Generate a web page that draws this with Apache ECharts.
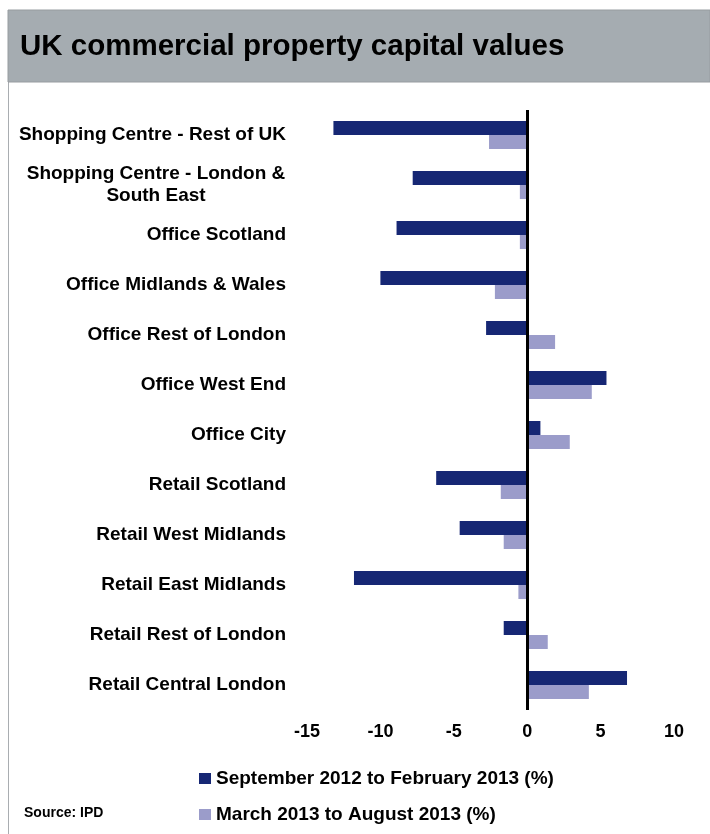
<!DOCTYPE html>
<html>
<head>
<meta charset="utf-8">
<script src="https://cdn.jsdelivr.net/npm/echarts@6/dist/echarts.min.js"></script>
<style>html,body{margin:0;padding:0;background:#fff}#chart{width:710px;height:834px}</style>
</head>
<body>
<div id="chart"></div>
<script>
const categories = ["Shopping Centre - Rest of UK","Shopping Centre - London &\nSouth East","Office Scotland","Office Midlands & Wales","Office Rest of London","Office West End","Office City","Retail Scotland","Retail West Midlands","Retail East Midlands","Retail Rest of London","Retail Central London"];
const sepFeb = [-13.2,-7.8,-8.9,-10.0,-2.8,5.4,0.9,-6.2,-4.6,-11.8,-1.6,6.8];
const marAug = [-2.6,-0.5,-0.5,-2.2,1.9,4.4,2.9,-1.8,-1.6,-0.6,1.4,4.2];
const seriesNames = ["September 2012 to February 2013 (%)","March 2013 to August 2013 (%)"];
const FONT = "'Liberation Sans', Arial, sans-serif";

const chart = echarts.init(document.getElementById("chart"));
chart.setOption({
  animation:false,
  graphic:[
    { type:"line", shape:{x1:8.5,y1:10,x2:8.5,y2:834}, style:{stroke:"#a9adb1",lineWidth:1} },
    { type:"rect", shape:{x:8,y:10,width:702,height:72}, style:{fill:"#a5acb1",stroke:"#979ca0",lineWidth:1} },
    { type:"text", left:20, top:32, style:{text:"UK commercial property capital values",font:"bold 29.5px "+FONT,fill:"#000"} },
    { type:"text", left:24, top:806, style:{text:"Source: IPD",font:"bold 14px "+FONT,fill:"#000"} }
  ],
  grid:{ left:307, right:36, top:110, bottom:124, containLabel:false, outerBoundsMode:"none" },
  legend:{ orient:"vertical", left:194, top:764, itemWidth:12, itemHeight:11, itemGap:17, icon:"rect",
    data:seriesNames, textStyle:{ fontFamily:FONT, fontWeight:"bold", fontSize:19, color:"#000" } },
  xAxis:{ type:"value", min:-15, max:10, interval:5,
    axisLine:{show:false}, axisTick:{show:false}, splitLine:{show:false},
    axisLabel:{ margin:13, fontFamily:FONT, fontWeight:"bold", fontSize:18, color:"#000" } },
  yAxis:{ type:"category", inverse:true, data:categories,
    axisLine:{show:false}, axisTick:{show:false},
    axisLabel:{ margin:21, fontFamily:FONT, fontWeight:"bold", fontSize:19, color:"#000", lineHeight:22,
      formatter:(v)=> v.indexOf("\n")<0 ? v : v.split("\n").map(s=>"{w|"+s+"}").join("\n"),
      rich:{ w:{ width:260, align:"center", fontFamily:FONT, fontWeight:"bold", fontSize:19, color:"#000", lineHeight:22 } } } },
  series:[
    { name:seriesNames[0], type:"bar", data:sepFeb, barWidth:14, barGap:"0%", itemStyle:{color:"#162774"},
      markLine:{ silent:true, symbol:"none", label:{show:false}, lineStyle:{color:"#000",width:3,type:"solid"}, data:[{xAxis:0}] } },
    { name:seriesNames[1], type:"bar", data:marAug, barWidth:14, barGap:"0%", itemStyle:{color:"#9b9cca"} }
  ]
});
</script>
</body>
</html>
